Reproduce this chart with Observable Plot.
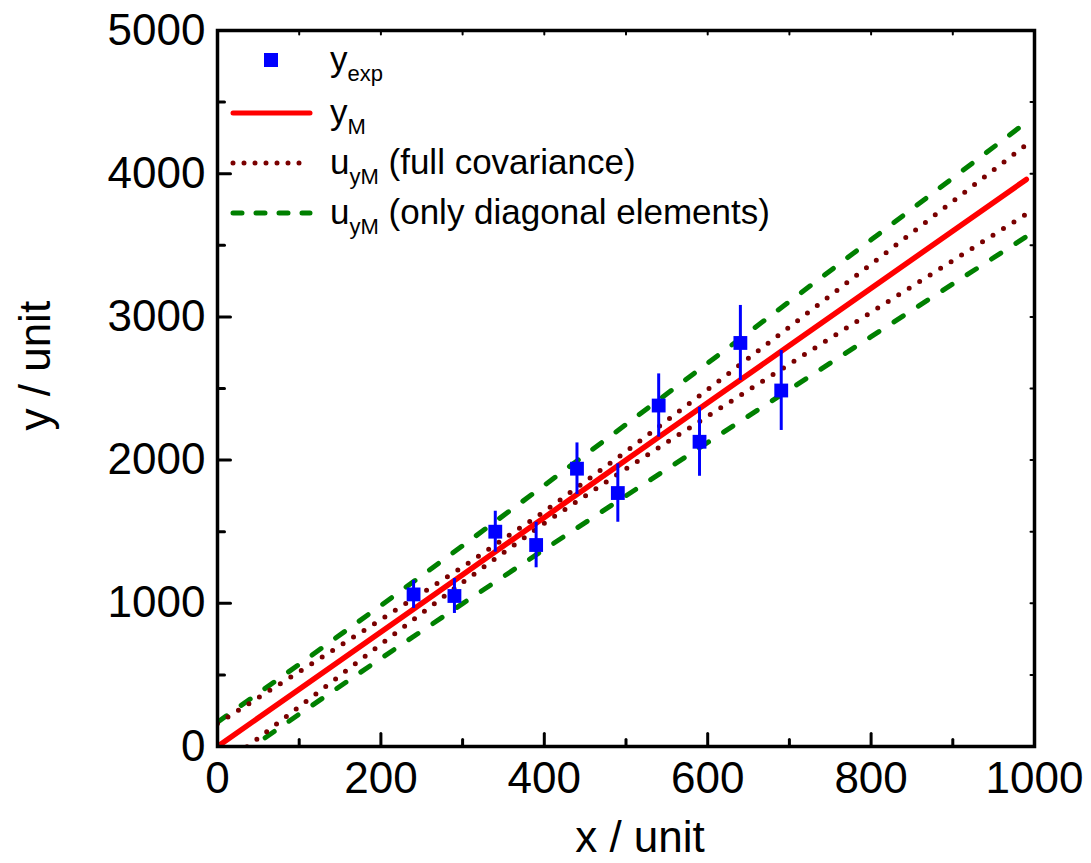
<!DOCTYPE html>
<html>
<head>
<meta charset="utf-8">
<script src="https://cdn.jsdelivr.net/npm/d3@7"></script>
<script src="https://cdn.jsdelivr.net/npm/@observablehq/plot@0.6"></script>
<style>
  html, body { margin: 0; padding: 0; background: #fff; }
  #chart svg { font-family: "Liberation Sans", Arial, sans-serif; }
</style>
</head>
<body>
<div id="chart"></div>
<script>
// ---- data ----
const xExp = [240, 290, 340, 390, 440, 490, 540, 590, 640, 690];
const yExp = [1062, 1051, 1500, 1407, 1940, 1770, 2381, 2128, 2818, 2486];
const uExp = [98, 122, 143, 159, 180, 204, 221, 241, 262, 279];

const xGrid = [0, 100, 200, 300, 400, 500, 600, 700, 800, 900, 990];
const yModel = [0, 400, 800, 1200, 1600, 2000, 2400, 2800, 3200, 3600, 3960];
const yFullUpper = [160, 522, 886, 1254, 1641, 2060, 2493, 2930, 3368, 3807, 4202];
const yFullLower = [-160, 278, 714, 1146, 1559, 1940, 2307, 2670, 3032, 3393, 3718];
const yDiagUpper = [170, 574, 985, 1402, 1824, 2249, 2677, 3107, 3538, 3970, 4359];
const yDiagLower = [-170, 226, 615, 998, 1376, 1751, 2123, 2493, 2862, 3230, 3561];

const xMajorTicks = [0, 200, 400, 600, 800, 1000];
const xMinorTicks = [100, 300, 500, 700, 900];
const xAllTicks = [0, 100, 200, 300, 400, 500, 600, 700, 800, 900, 1000];
const yMajorTicks = [0, 1000, 2000, 3000, 4000, 5000];
const yMinorTicks = [500, 1500, 2500, 3500, 4500];
const yAllTicks = [0, 500, 1000, 1500, 2000, 2500, 3000, 3500, 4000, 4500, 5000];

const legendLabels = [
  {main: "y", sub: "exp", rest: ""},
  {main: "y", sub: "M", rest: ""},
  {main: "u", sub: "yM", rest: " (full covariance)"},
  {main: "u", sub: "yM", rest: " (only diagonal elements)"}
];

// ---- tables ----
const pts = xExp.map((x, i) => ({x, y: yExp[i], lo: yExp[i] - uExp[i], hi: yExp[i] + uExp[i]}));
const curve = (ys) => xGrid.map((x, i) => ({x, y: ys[i]}));

const tickShape = {draw(context, l) { context.moveTo(0, 0); context.lineTo(0, -l); }};
const FS = 44;

const plot = Plot.plot({
  width: 1091,
  height: 863,
  marginLeft: 217,
  marginRight: 57,
  marginTop: 30,
  marginBottom: 117,
  x: {domain: [0, 1000]},
  y: {domain: [0, 5000]},
  style: {fontFamily: "'Liberation Sans', Arial, sans-serif", background: "white"},
  marks: [
    Plot.line(curve(yDiagUpper), {x: "x", y: "y", stroke: "#008000", strokeWidth: 5, strokeDasharray: "11,18", strokeLinecap: "round", clip: true}),
    Plot.line(curve(yDiagLower), {x: "x", y: "y", stroke: "#008000", strokeWidth: 5, strokeDasharray: "11,18", strokeLinecap: "round", clip: true}),
    Plot.line(curve(yFullUpper), {x: "x", y: "y", stroke: "#7a0000", strokeWidth: 5, strokeDasharray: "0,12.4", strokeLinecap: "round", clip: true}),
    Plot.line(curve(yFullLower), {x: "x", y: "y", stroke: "#7a0000", strokeWidth: 5, strokeDasharray: "0,12.4", strokeLinecap: "round", clip: true}),
    Plot.line(curve(yModel), {x: "x", y: "y", stroke: "#ff0000", strokeWidth: 5.5, strokeLinecap: "round", clip: true}),
    Plot.ruleX(pts, {x: "x", y1: "lo", y2: "hi", stroke: "#0000ff", strokeWidth: 3}),
    Plot.dot(pts, {x: "x", y: "y", symbol: "square", r: 7.8, fill: "#0000ff", stroke: "none"}),
    // inward ticks
    Plot.vector(xMajorTicks, {x: d => d, frameAnchor: "bottom", rotate: 0, length: 13, anchor: "start", shape: tickShape, stroke: "black", strokeWidth: 3}),
    Plot.vector(xMinorTicks, {x: d => d, frameAnchor: "bottom", rotate: 0, length: 7, anchor: "start", shape: tickShape, stroke: "black", strokeWidth: 3}),
    Plot.vector(xAllTicks, {x: d => d, frameAnchor: "top", rotate: 180, length: 4, anchor: "start", shape: tickShape, stroke: "black", strokeWidth: 2}),
    Plot.vector(yMajorTicks, {y: d => d, frameAnchor: "left", rotate: 90, length: 13, anchor: "start", shape: tickShape, stroke: "black", strokeWidth: 3}),
    Plot.vector(yMinorTicks, {y: d => d, frameAnchor: "left", rotate: 90, length: 7, anchor: "start", shape: tickShape, stroke: "black", strokeWidth: 3}),
    Plot.vector(yAllTicks, {y: d => d, frameAnchor: "right", rotate: -90, length: 4, anchor: "start", shape: tickShape, stroke: "black", strokeWidth: 2}),
    Plot.frame({stroke: "black", strokeWidth: 3.5}),
    Plot.axisX({ticks: xMajorTicks, tickSize: 0, tickPadding: 15, fontSize: FS, label: null, tickFormat: d => String(d), style: {letterSpacing: "2px"}}),
    Plot.axisY({ticks: yMajorTicks, tickSize: 0, tickPadding: 12, fontSize: FS, label: null, tickFormat: d => String(d), style: {letterSpacing: "2px"}}),
    Plot.text(["x / unit"], {frameAnchor: "bottom", dy: 105, dx: 14, fontSize: FS, fill: "black", style: {letterSpacing: "2.5px"}}),
    Plot.text(["y / unit"], {frameAnchor: "left", dx: -182, dy: 42, rotate: -90, fontSize: FS, fill: "black"})
  ]
});

document.getElementById("chart").appendChild(plot);

// ---- legend (inside plot area, top-left) ----
const svg = d3.select(plot);
const lg = svg.append("g").attr("class", "legend").attr("text-anchor", "start");
const rows = [60, 113, 163, 213];
const symX0 = 233, symX1 = 310, textX = 330;

lg.append("rect").attr("x", 271 - 7).attr("y", rows[0] - 7).attr("width", 14).attr("height", 14).attr("fill", "#0000ff");
lg.append("line").attr("x1", symX0).attr("x2", symX1).attr("y1", rows[1]).attr("y2", rows[1])
  .attr("stroke", "#ff0000").attr("stroke-width", 5).attr("stroke-linecap", "round");
lg.append("line").attr("x1", symX0).attr("x2", symX1).attr("y1", rows[2]).attr("y2", rows[2])
  .attr("stroke", "#7a0000").attr("stroke-width", 5).attr("stroke-linecap", "round").attr("stroke-dasharray", "0,11");
lg.append("line").attr("x1", symX0).attr("x2", symX1).attr("y1", rows[3]).attr("y2", rows[3])
  .attr("stroke", "#008000").attr("stroke-width", 5).attr("stroke-linecap", "round").attr("stroke-dasharray", "9,14");

legendLabels.forEach((lab, i) => {
  const t = lg.append("text").attr("x", textX).attr("y", rows[i] + 11)
    .attr("text-anchor", "start")
    .attr("font-size", 35).attr("fill", "black")
    .attr("font-family", "'Liberation Sans', Arial, sans-serif");
  t.append("tspan").text(lab.main);
  t.append("tspan").attr("font-size", 22).attr("dy", 10).text(lab.sub);
  if (lab.rest) t.append("tspan").attr("dy", -10).text(lab.rest);
});
</script>
</body>
</html>
